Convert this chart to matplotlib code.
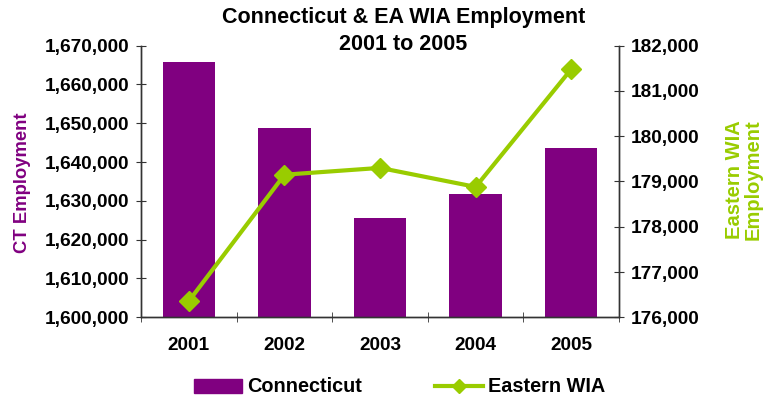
import matplotlib
matplotlib.use("Agg")
import matplotlib.pyplot as plt
from matplotlib.ticker import FuncFormatter, FixedLocator
from matplotlib.lines import Line2D
from matplotlib.patches import Patch

years = ["2001", "2002", "2003", "2004", "2005"]
ct_employment = [1665800, 1648800, 1625600, 1631800, 1643600]
ea_wia_employment = [176360, 179150, 179300, 178880, 181480]

purple = "#800080"
green = "#99CC00"

plt.rcParams['font.family'] = ['Liberation Sans', 'DejaVu Sans']
plt.rcParams['font.weight'] = 'bold'

fig = plt.figure(figsize=(7.7, 4.0), dpi=100)
ax = fig.add_axes([0.1833, 0.2068, 0.6206, 0.6790])
ax2 = ax.twinx()

x = list(range(len(years)))
ax.bar(x, ct_employment, width=0.55, color=purple, zorder=2)
ax2.plot(x, ea_wia_employment, color=green, lw=3, marker='D', markersize=10, zorder=3)

ax.set_xlim(-0.5, 4.5)
ax.set_ylim(1600000, 1670000)
ax2.set_ylim(176000, 182000)
ax.set_yticks(range(1600000, 1670001, 10000))
ax2.set_yticks(range(176000, 182001, 1000))
fmt = FuncFormatter(lambda v, p: f"{int(v):,}")
ax.yaxis.set_major_formatter(fmt)
ax2.yaxis.set_major_formatter(fmt)

fs = 13.7
ax.set_xticks(x)
ax.set_xticklabels(years)
ax.tick_params(axis='x', length=0, pad=14, labelsize=fs)
ax.xaxis.set_minor_locator(FixedLocator([-0.5, 0.5, 1.5, 2.5, 3.5, 4.5]))
ax.tick_params(axis='x', which='minor', length=7, direction='inout', color='#333333')
ax.tick_params(axis='y', length=7, direction='inout', labelsize=fs, color='#333333', pad=5)
ax2.tick_params(axis='y', length=7, direction='inout', labelsize=fs, color='#333333', pad=5)

for a in (ax, ax2):
    a.spines['top'].set_visible(False)
    for s in ('left', 'right', 'bottom'):
        a.spines[s].set_color('#333333')
        a.spines[s].set_linewidth(1)

ax.set_ylabel("CT Employment", color=purple, fontsize=13.3, fontweight='bold',
              ha='center', va='center')
ax.yaxis.set_label_coords(-0.248, 0.494)
ax2.set_ylabel("Eastern WIA\nEmployment", color=green, fontsize=14.5, fontweight='bold',
               linespacing=1.0, ha='center', va='center', rotation=90)
ax2.yaxis.set_label_coords(1.261, 0.5055)

fig.text(0.524, 0.955, "Connecticut & EA WIA Employment", ha='center', va='center', fontsize=15.5, fontweight='bold')
fig.text(0.524, 0.8875, "2001 to 2005", ha='center', va='center', fontsize=15.5, fontweight='bold')

handles = [Patch(color=purple), Line2D([0], [0], color=green, lw=3, marker='D', markersize=7)]
fig.legend(handles, ["Connecticut", "Eastern WIA"], loc='center', bbox_to_anchor=(0.519, 0.0325),
           ncol=2, frameon=False, columnspacing=3.7, handlelength=2.4, handleheight=0.7,
           handletextpad=0.25, borderpad=0, borderaxespad=0,
           prop={'weight': 'bold', 'size': 14.3})

fig.savefig("out.png", dpi=100)
